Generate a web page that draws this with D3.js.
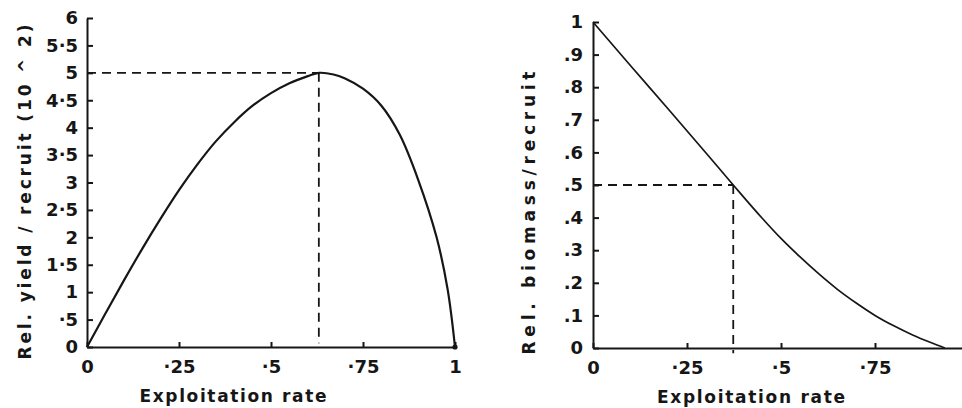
<!DOCTYPE html>
<html lang="en">
<head>
<meta charset="utf-8">
<title>Yield and biomass per recruit</title>
<script src="https://cdnjs.cloudflare.com/ajax/libs/d3/7.8.5/d3.min.js"></script>
<style>
  body { margin: 0; background: #fff; }
  svg { display: block; }
  text { font-family: "DejaVu Sans", sans-serif; font-weight: bold; fill: #161616; }
  .axis path, .axis line { stroke: #161616; stroke-width: 2; }
  .axis text { font-size: 18px; }
</style>
</head>
<body>
<script>
// left panel: relative yield per recruit vs exploitation rate
var yieldE     = [0, 0.05, 0.1, 0.15, 0.2, 0.25, 0.3, 0.35, 0.4, 0.45, 0.5, 0.55, 0.6, 0.63, 0.67, 0.7, 0.75, 0.8, 0.85, 0.9, 0.95, 0.98, 1.0];
var yieldValue = [0, 0.61, 1.21, 1.79, 2.34, 2.86, 3.33, 3.75, 4.1, 4.4, 4.63, 4.81, 4.94, 5.0, 4.97, 4.9, 4.71, 4.4, 3.87, 3.05, 2.0, 1.05, 0];
var yieldMax   = [0.63, 5.0];

// right panel: relative biomass per recruit vs exploitation rate
var biomassE     = [0, 0.1, 0.2, 0.3, 0.373, 0.45, 0.5, 0.55, 0.6, 0.65, 0.7, 0.75, 0.8, 0.85, 0.9, 0.936];
var biomassValue = [1.0, 0.866, 0.733, 0.599, 0.5, 0.398, 0.336, 0.28, 0.228, 0.18, 0.138, 0.1, 0.068, 0.04, 0.016, 0];
var biomassHalf  = [0.373, 0.5];

// tick values and labels
var leftYTicks  = [0, 0.5, 1, 1.5, 2, 2.5, 3, 3.5, 4, 4.5, 5, 5.5, 6];
var leftYLabels = ["0", "·5", "1", "1·5", "2", "2·5", "3", "3·5", "4", "4·5", "5", "5·5", "6"];
var leftXTicks  = [0, 0.25, 0.5, 0.75, 1];
var leftXLabels = ["0", "·25", "·5", "·75", "1"];
var rightYTicks  = [0, 0.1, 0.2, 0.3, 0.4, 0.5, 0.6, 0.7, 0.8, 0.9, 1];
var rightYLabels = ["0", ".1", ".2", ".3", ".4", ".5", ".6", ".7", ".8", ".9", "1"];
var rightXTicks  = [0, 0.25, 0.5, 0.75];
var rightXLabels = ["0", "·25", "·5", "·75"];

var w = 962, h = 408;

var svg = d3.select("body").append("svg")
    .attr("width", w)
    .attr("height", h);

svg.append("rect").attr("width", w).attr("height", h).attr("fill", "#fff");

// scales
var xL = d3.scaleLinear().domain([0, 1]).range([87, 455]);
var yL = d3.scaleLinear().domain([0, 6]).range([347, 18]);
var xR = d3.scaleLinear().domain([0, 1]).range([593, 969]);
var yR = d3.scaleLinear().domain([0, 1]).range([348, 22]);

function labeler(ticks, labels) {
    return function(d) { return labels[ticks.indexOf(d)]; };
}

var dash = "9,6";

function dashed(points) {
    svg.append("path")
        .attr("d", d3.line()(points))
        .attr("stroke", "#161616").attr("stroke-width", 1.8)
        .attr("stroke-dasharray", dash).attr("fill", "none");
}

// ---- left panel ----
svg.append("g").attr("class", "axis")
    .attr("transform", "translate(0," + yL(0) + ")")
    .call(d3.axisBottom(xL).tickValues(leftXTicks).tickFormat(labeler(leftXTicks, leftXLabels))
        .tickSizeInner(-5).tickSizeOuter(0).tickPadding(13));

svg.append("g").attr("class", "axis")
    .attr("transform", "translate(" + xL(0) + ",0)")
    .call(d3.axisLeft(yL).tickValues(leftYTicks).tickFormat(labeler(leftYTicks, leftYLabels))
        .tickSizeInner(-6).tickSizeOuter(0).tickPadding(9));

dashed([[xL(0), yL(yieldMax[1])], [xL(yieldMax[0]), yL(yieldMax[1])]]);
dashed([[xL(yieldMax[0]), yL(yieldMax[1])], [xL(yieldMax[0]), yL(0.07)]]);

var yieldLine = d3.line()
    .x(function(d, i) { return xL(yieldE[i]); })
    .y(function(d) { return yL(d); })
    .curve(d3.curveCatmullRom.alpha(0.5));

svg.append("path")
    .datum(yieldValue)
    .attr("d", yieldLine)
    .attr("fill", "none")
    .attr("stroke", "#161616")
    .attr("stroke-width", 2.2);

svg.append("circle")
    .attr("cx", xL(1)).attr("cy", yL(0)).attr("r", 2.6)
    .attr("fill", "#161616");

svg.append("text")
    .attr("x", 233).attr("y", 402)
    .attr("text-anchor", "middle")
    .attr("textLength", 187).attr("lengthAdjust", "spacing")
    .style("font-size", "17px")
    .text("Exploitation rate");

svg.append("text")
    .attr("transform", "translate(31,192) rotate(-90)")
    .attr("text-anchor", "middle")
    .attr("textLength", 335).attr("lengthAdjust", "spacing")
    .style("font-size", "17px")
    .text("Rel.  yield / recruit  (10 ^ 2)");

// ---- right panel ----
svg.append("g").attr("class", "axis")
    .attr("transform", "translate(0," + yR(0) + ")")
    .call(d3.axisBottom(xR).tickValues(rightXTicks).tickFormat(labeler(rightXTicks, rightXLabels))
        .tickSizeInner(-5).tickSizeOuter(0).tickPadding(13));

svg.append("g").attr("class", "axis")
    .attr("transform", "translate(" + xR(0) + ",0)")
    .call(d3.axisLeft(yR).tickValues(rightYTicks).tickFormat(labeler(rightYTicks, rightYLabels))
        .tickSizeInner(-6).tickSizeOuter(0).tickPadding(10));

dashed([[xR(0), yR(biomassHalf[1])], [xR(biomassHalf[0]), yR(biomassHalf[1])]]);
dashed([[xR(biomassHalf[0]), yR(biomassHalf[1])], [xR(biomassHalf[0]), yR(-0.016)]]);

var biomassLine = d3.line()
    .x(function(d, i) { return xR(biomassE[i]); })
    .y(function(d) { return yR(d); })
    .curve(d3.curveMonotoneX);

svg.append("path")
    .datum(biomassValue)
    .attr("d", biomassLine)
    .attr("fill", "none")
    .attr("stroke", "#161616")
    .attr("stroke-width", 1.7);

svg.append("text")
    .attr("x", 751).attr("y", 403)
    .attr("text-anchor", "middle")
    .attr("textLength", 188).attr("lengthAdjust", "spacing")
    .style("font-size", "17px")
    .text("Exploitation rate");

svg.append("text")
    .attr("transform", "translate(535,213) rotate(-90)")
    .attr("text-anchor", "middle")
    .attr("textLength", 283).attr("lengthAdjust", "spacing")
    .style("font-size", "17px")
    .text("Rel.  biomass/recruit");
</script>
</body>
</html>
